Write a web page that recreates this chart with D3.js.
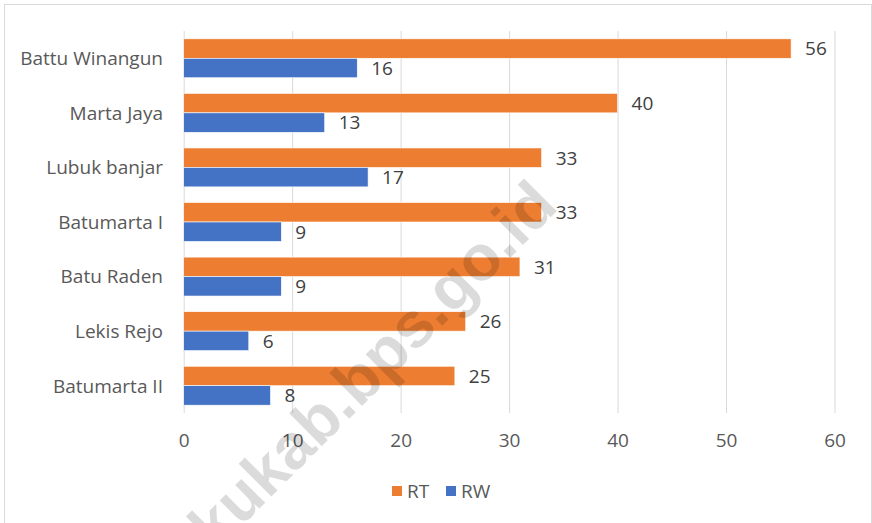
<!DOCTYPE html>
<html>
<head>
<meta charset="utf-8">
<script src="https://cdn.jsdelivr.net/npm/d3@7"></script>
<style>
  html, body { margin: 0; padding: 0; background: #fff; }
  svg { display: block; }
</style>
</head>
<body>
<svg id="chart" width="872" height="523"></svg>
<script>
const categories = ["Battu Winangun", "Marta Jaya", "Lubuk banjar", "Batumarta I", "Batu Raden", "Lekis Rejo", "Batumarta II"];
const seriesNames = ["RT", "RW"];
const rtValues = [56, 40, 33, 33, 31, 26, 25];
const rwValues = [16, 13, 17, 9, 9, 6, 8];
const xTicks = [0, 10, 20, 30, 40, 50, 60];
const colors = ["#ED7D31", "#4472C4"];
const watermark = "okukab.bps.go.id";

const seriesValues = [rtValues, rwValues];
const svg = d3.select("#chart");
const FONT = "'Open Sans', sans-serif";

// chart border
svg.append("rect")
  .attr("x", 4.5).attr("y", 4.5).attr("width", 867).attr("height", 530)
  .attr("fill", "#fff").attr("stroke", "#d9d9d9").attr("stroke-width", 1);

const x = d3.scaleLinear().domain([0, 60]).range([183.7, 834.5]);
const y0 = d3.scaleBand().domain(categories).range([31, 413])
  .paddingInner(0.287).paddingOuter(0.1435);
const y1 = d3.scaleBand().domain(seriesNames).range([0, y0.bandwidth()]);

// gridlines + tick labels via axis
const xAxis = d3.axisBottom(x).tickValues(xTicks).tickSize(-(413 - 31)).tickPadding(18);
const gx = svg.append("g").attr("transform", "translate(0,413)").call(xAxis);
gx.select(".domain").remove();
gx.selectAll(".tick line").attr("stroke", "#d9d9d9").attr("stroke-width", 1);
gx.selectAll(".tick text")
  .attr("fill", "#595959").attr("font-family", FONT).attr("font-size", 19)
  .attr("dy", "0.32em").attr("y", 28);

// category labels via axis
const yAxis = d3.axisLeft(y0).tickSize(0).tickPadding(0);
const gy = svg.append("g").attr("transform", "translate(163,0)").call(yAxis);
gy.select(".domain").remove();
gy.selectAll(".tick text")
  .attr("fill", "#595959").attr("font-family", FONT).attr("font-size", 19)
  .attr("dy", "0.36em");

// bars
const rows = categories.map((c, i) => ({
  cat: c,
  vals: seriesNames.map((s, j) => ({ series: s, value: seriesValues[j][i], color: colors[j] }))
}));

const groups = svg.append("g").selectAll("g").data(rows).join("g")
  .attr("transform", d => `translate(0,${y0(d.cat)})`);

groups.selectAll("rect").data(d => d.vals).join("rect")
  .attr("x", x(0))
  .attr("y", d => y1(d.series))
  .attr("width", d => x(d.value) - x(0))
  .attr("height", y1.bandwidth())
  .attr("fill", d => d.color)
  .attr("stroke", "#fff").attr("stroke-width", 0.6);

groups.selectAll("text").data(d => d.vals).join("text")
  .attr("x", d => x(d.value) + 14)
  .attr("y", d => y1(d.series) + y1.bandwidth() / 2)
  .attr("dy", "0.36em")
  .attr("fill", "#404040").attr("font-family", FONT).attr("font-size", 19)
  .text(d => d.value);

// legend
const legend = svg.append("g");
const legendX = [392, 446];
seriesNames.forEach((s, i) => {
  legend.append("rect").attr("x", legendX[i]).attr("y", 486).attr("width", 10).attr("height", 10)
    .attr("fill", colors[i]);
  legend.append("text").attr("x", legendX[i] + 15).attr("y", 491).attr("dy", "0.36em")
    .attr("fill", "#595959").attr("font-family", FONT).attr("font-size", 19).text(s);
});

// watermark
svg.append("text")
  .attr("transform", "translate(560,208) rotate(-45)")
  .attr("text-anchor", "end")
  .attr("font-family", "'Liberation Sans', Arial, sans-serif")
  .attr("font-weight", "bold")
  .attr("font-size", 64)
  .attr("fill", "#000").attr("fill-opacity", 0.14)
  .text(watermark);
</script>
</body>
</html>
